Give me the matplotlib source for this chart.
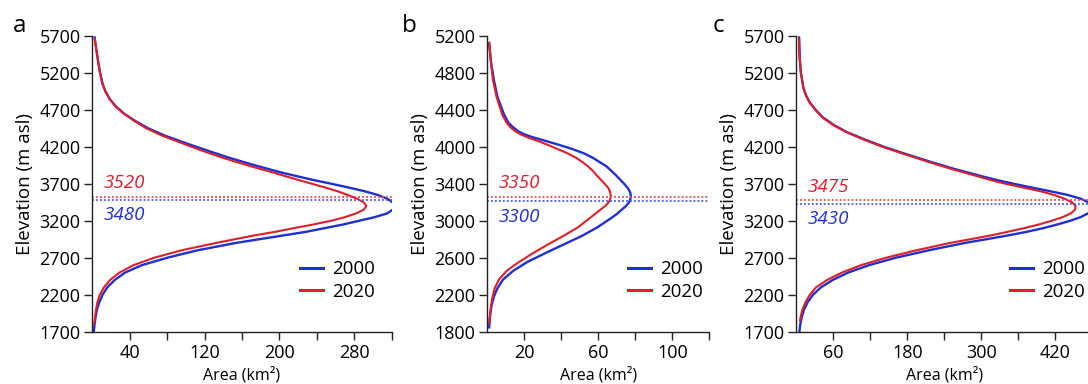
import numpy as np
import matplotlib.pyplot as plt
from matplotlib.transforms import offset_copy

plt.rcParams['font.family'] = ['Open Sans', 'DejaVu Sans']

# ---- panel a ----
elev_a_2000 = [5680, 5500, 5350, 5200, 5050, 4950, 4850, 4750, 4650, 4550, 4450, 4350, 4250, 4150,
               4050, 3950, 3850, 3750, 3700, 3650, 3600, 3550, 3500, 3450, 3400, 3350, 3300, 3250,
               3200, 3150, 3100, 3050, 3000, 2900, 2800, 2700, 2600, 2500, 2400, 2300, 2200, 2100,
               2000, 1900, 1800, 1700]
area_a_2000 = [2.5, 4.5, 6.3, 8.3, 11, 14, 18.5, 25, 34, 46, 60, 78, 100, 123,
               147, 174, 203, 237, 256, 274, 291, 305, 315, 321, 323.5, 321, 315, 302,
               285, 268, 248, 228, 203, 153, 112, 80, 53, 35, 24, 16, 11, 7.5,
               5, 3.5, 2.5, 1.5]
elev_a_2020 = [5660, 5500, 5350, 5200, 5050, 4950, 4850, 4750, 4650, 4550, 4450, 4350, 4250, 4150,
               4050, 3950, 3850, 3750, 3700, 3650, 3600, 3550, 3500, 3450, 3400, 3350, 3300, 3250,
               3200, 3150, 3100, 3050, 3000, 2900, 2800, 2700, 2600, 2500, 2400, 2300, 2200, 2100,
               2000, 1900, 1800]
area_a_2020 = [2.5, 4.5, 6.3, 8.3, 11, 14, 18.5, 24.5, 33.5, 45, 58, 75, 96, 117,
               140, 166, 194, 221, 235, 249, 262, 273, 283, 290, 293, 290, 282, 270,
               255, 236, 215, 195, 172, 132, 95, 66, 44, 29, 19, 12.5, 8, 5.5,
               4, 3, 2]

# ---- panel b ----
elev_b_2000 = [5120, 4900, 4700, 4500, 4300, 4200, 4150, 4100, 4075, 4050, 4025, 4000, 3950, 3900,
               3850, 3800, 3700, 3600, 3500, 3450, 3400, 3350, 3300, 3250, 3200, 3150, 3100, 3000,
               2900, 2800, 2700, 2600, 2500, 2400, 2300, 2200, 2100, 2000, 1900, 1850]
area_b_2000 = [1, 2, 3.5, 5.5, 9, 11.5, 14, 17, 19.5, 22.5, 26.3, 30.5, 38.5, 46,
               52.3, 57, 64.5, 69.5, 74, 76, 77.3, 77.6, 77, 75.2, 72.5, 69.8, 66.5, 59.5,
               51, 41, 31, 21.5, 14, 8.5, 5.5, 3.5, 2.3, 1.6, 1.2, 1]
elev_b_2020 = [5120, 4900, 4700, 4500, 4300, 4200, 4150, 4100, 4075, 4050, 4025, 4000, 3950, 3900,
               3850, 3800, 3750, 3700, 3650, 3600, 3500, 3450, 3400, 3350, 3300, 3250, 3200, 3100,
               3000, 2900, 2800, 2700, 2600, 2500, 2400, 2300, 2200, 2100, 2000, 1900]
area_b_2020 = [1, 2, 3, 5, 8, 10.5, 12.5, 15.5, 17.5, 20, 23, 26.5, 32.5, 38,
               43.5, 48, 51.5, 54.5, 57, 59, 63.5, 65.5, 66.5, 66.7, 66, 64, 61, 55,
               49, 41, 32.5, 24.5, 17, 10.5, 6.3, 4, 2.8, 2, 1.5, 1]

# ---- panel c ----
elev_c_2000 = [5680, 5400, 5200, 5100, 5000, 4900, 4800, 4700, 4600, 4500, 4400, 4300, 4200, 4100,
               4000, 3900, 3800, 3750, 3700, 3650, 3600, 3550, 3500, 3450, 3400, 3350, 3300, 3250,
               3200, 3150, 3100, 3050, 3000, 2900, 2800, 2700, 2600, 2500, 2400, 2300, 2200, 2100,
               2000, 1900, 1800, 1700]
area_c_2000 = [4.5, 5.5, 7.5, 9.5, 11.5, 15.5, 22, 31.5, 43, 60, 82, 111, 142.5, 179,
               217, 257, 302, 326, 353, 382, 412, 440, 461, 474, 480, 479, 473, 461,
               444, 423, 400, 373, 342, 273, 214, 161, 118, 84, 59, 40, 27, 18.5,
               12.5, 9, 6.5, 5]
elev_c_2020 = [5660, 5400, 5200, 5100, 5000, 4900, 4800, 4700, 4600, 4500, 4400, 4300, 4200, 4100,
               4000, 3900, 3800, 3750, 3700, 3650, 3600, 3550, 3500, 3450, 3400, 3350, 3300, 3250,
               3200, 3150, 3100, 3050, 3000, 2900, 2800, 2700, 2600, 2500, 2400, 2300, 2200, 2100,
               2000, 1900, 1850]
area_c_2020 = [4.5, 5.5, 7.5, 9.5, 11.5, 15.5, 21.5, 31, 42, 59, 81, 109, 140, 176,
               213, 252, 295, 316, 340, 368, 396, 418, 435, 447, 453, 452, 445, 432,
               414, 393, 369, 342, 314, 249, 194, 145, 105, 74, 50, 32, 22, 15,
               10, 7, 6]

# median elevations
median_2000 = [3480, 3300, 3430]
median_2020 = [3520, 3350, 3475]

panel_letters = ['a', 'b', 'c']
years = ['2000', '2020']

# axis set-up per panel
ylims = [(1700, 5700), (1800, 5200), (1700, 5700)]
ytick_labels = [['1700', '2200', '2700', '3200', '3700', '4200', '4700', '5200', '5700'],
                ['1800', '2200', '2600', '3000', '3400', '4000', '4400', '4800', '5200'],
                ['1700', '2200', '2700', '3200', '3700', '4200', '4700', '5200', '5700']]
xlims = [(0, 320), (0, 120), (0, 480)]
xtick_step = [40, 20, 60]
xtick_labels = [['40', '', '120', '', '200', '', '280', ''],
                ['20', '', '60', '', '100', ''],
                ['60', '', '180', '', '300', '', '420', '']]

blue = '#1f2fd2'
red = '#dc1f2a'
blue_dot = '#4a5ae0'
red_dot = '#e5474f'

W, H = 1088, 384
fig = plt.figure(figsize=(W / 100, H / 100), dpi=100)

# axes rectangles in pixels: left, right, top, bottom
rects = [(92.3, 391.7, 36, 331.7), (487.3, 709.3, 36, 331.7), (796.3, 1092.3, 36, 331.7)]
letter_x = [13, 402, 713]
legend_x = [0.694, 0.634, 0.722]

series = [((elev_a_2000, area_a_2000), (elev_a_2020, area_a_2020)),
          ((elev_b_2000, area_b_2000), (elev_b_2020, area_b_2020)),
          ((elev_c_2000, area_c_2000), (elev_c_2020, area_c_2020))]

for i in range(3):
    l, r, t, b = rects[i]
    ax = fig.add_axes([l / W, 1 - b / H, (r - l) / W, (b - t) / H])
    (e0, a0), (e1, a1) = series[i]
    ax.plot(a0, e0, color=blue, lw=1.7, label=years[0], solid_joinstyle='round')
    ax.plot(a1, e1, color=red, lw=1.5, label=years[1], solid_joinstyle='round')
    ax.axhline(median_2020[i], color=red_dot, ls=(0, (1, 1.2)), lw=1.3)
    ax.axhline(median_2000[i], color=blue_dot, ls=(0, (1, 1.2)), lw=1.3)
    ax.annotate(str(median_2020[i]), xy=(0, median_2020[i]), xytext=(8, 10),
                textcoords='offset points', color=red, style='italic', fontsize=13.5,
                va='center', ha='left')
    ax.annotate(str(median_2000[i]), xy=(0, median_2000[i]), xytext=(8, -11),
                textcoords='offset points', color=blue, style='italic', fontsize=13.5,
                va='center', ha='left')

    ax.set_xlim(*xlims[i])
    ax.set_ylim(*ylims[i])
    ax.set_yticks(np.linspace(ylims[i][0], ylims[i][1], 9), ytick_labels[i])
    step = xtick_step[i]
    ax.set_xticks(np.arange(step, xlims[i][1] + 1, step), xtick_labels[i])
    for s in ['top', 'right']:
        ax.spines[s].set_visible(False)
    for s in ['left', 'bottom']:
        ax.spines[s].set_color('#222222')
        ax.spines[s].set_linewidth(1.0)
    ax.tick_params(axis='both', direction='out', length=6, width=1.0, color='#222222',
                   labelsize=13, pad=2.5)
    ax.tick_params(axis='x', pad=3)

    ax.set_ylabel('Elevation (m asl)', fontsize=13.5)
    ax.yaxis.set_label_coords(0, 0.5, transform=offset_copy(ax.transAxes, fig, x=-58, y=0, units='dots'))
    ax.set_xlabel('Area (km²)', fontsize=11.5)
    ax.xaxis.set_label_coords(0.5, 0, transform=offset_copy(ax.transAxes, fig, x=0, y=-35, units='dots'))

    leg = ax.legend(loc='upper left', bbox_to_anchor=(legend_x[i], 0.242), frameon=False,
                    fontsize=13.5, handlelength=1.2, handletextpad=0.5, labelspacing=0.25,
                    borderpad=0, borderaxespad=0)
    for ln in leg.get_lines():
        ln.set_linewidth(2.2)

    fig.text(letter_x[i] / W, 1 - 32 / H, panel_letters[i], fontsize=17.5, va='baseline', ha='left')

fig.savefig('out.png', dpi=100)
